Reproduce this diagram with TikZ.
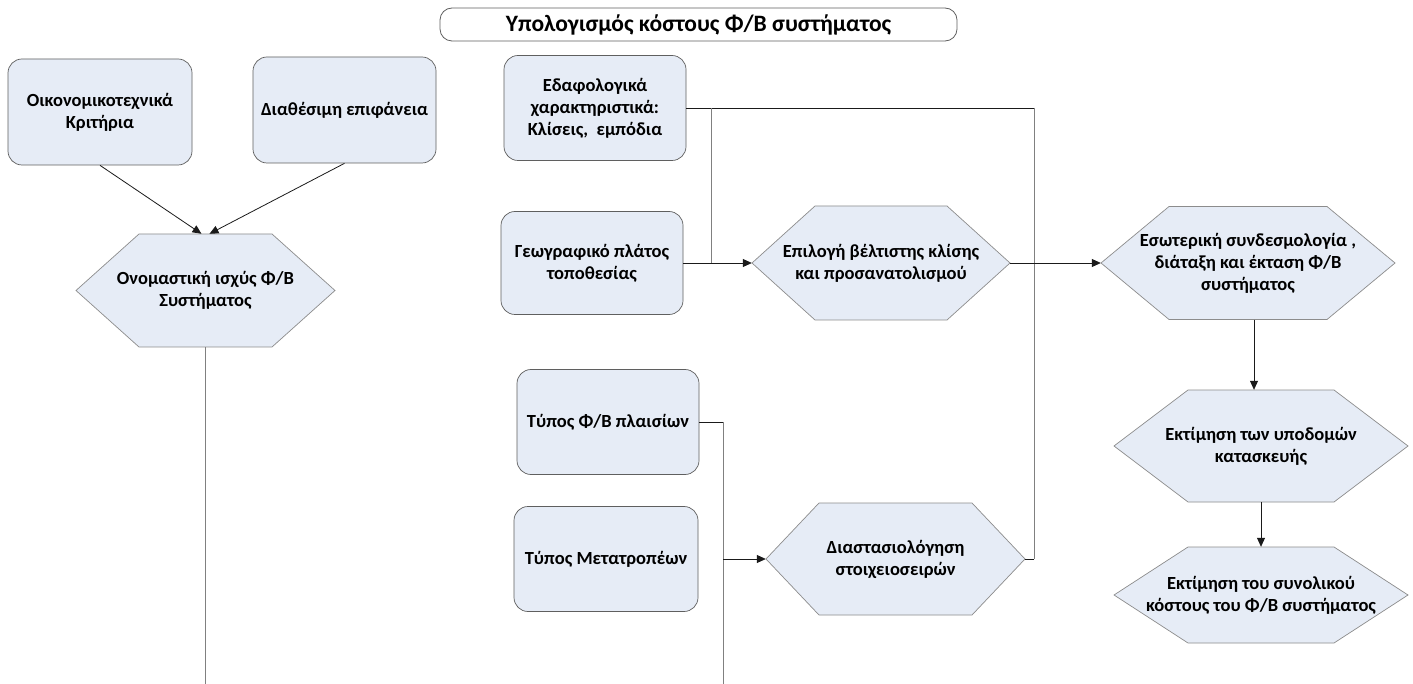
\documentclass[tikz,border=0pt]{standalone}
\usepackage{fontspec}
\setmainfont{Carlito}
\usetikzlibrary{arrows.meta}
\definecolor{boxfill}{HTML}{E6ECF6}
\definecolor{boxline}{HTML}{5F5F5F}
\definecolor{hexline}{HTML}{8C8C8C}
\definecolor{vline}{HTML}{808080}
\definecolor{hline}{HTML}{1A1A1A}
\newcommand\bodyfont{\fontsize{18.5}{22}\selectfont\bfseries}
\newcommand\hexnode[7]{%
  \path[hexshape] ({#2-#4/2},#3) -- ({#2-#4/2+#6},{#3-#5/2}) -- ({#2+#4/2-#6},{#3-#5/2})
    -- ({#2+#4/2},#3) -- ({#2+#4/2-#6},{#3+#5/2}) -- ({#2-#4/2+#6},{#3+#5/2}) -- cycle;
  \node[hexlbl, minimum width=#4pt, minimum height=#5pt] (#1) at (#2,#3) {#7};}
\begin{document}
\begin{tikzpicture}[x=1pt,y=-1pt,
  box/.style={draw=boxline, line width=0.7pt, fill=boxfill, rounded corners=14pt,
    align=center, font=\bodyfont, inner sep=0pt},
  hexshape/.style={draw=hexline, line width=0.7pt, fill=boxfill},
  hexlbl/.style={align=center, font=\bodyfont, inner sep=0pt},
  titlebox/.style={draw=boxline, line width=0.8pt, fill=white, rounded corners=12pt,
    font=\fontsize{23.5}{26}\selectfont\bfseries, inner sep=0pt},
  hconn/.style={draw=hline, line width=0.8pt},
  vconn/.style={draw=vline, line width=0.9pt},
  arr/.style={-{Triangle[length=9pt,width=8pt]}}]
\useasboundingbox (0,0) rectangle (1413,684);
\fill[white] (0,0) rectangle (1413,684);

% title
\node[titlebox, minimum width=517pt, minimum height=33pt] (title) at (698.5,24.5)
  {Υπολογισμός κόστους Φ/Β συστήματος};

% boxes
\node[box, minimum width=184pt, minimum height=106pt] (A) at (100,112)
  {Οικονομικοτεχνικά\\Κριτήρια};
\node[box, minimum width=183pt, minimum height=106pt] (B) at (344.5,110)
  {Διαθέσιμη επιφάνεια};
\node[box, minimum width=182pt, minimum height=105pt] (C) at (595,108)
  {Εδαφολογικά\\χαρακτηριστικά:\\Κλίσεις,\ \ εμπόδια};
\node[box, minimum width=182pt, minimum height=103pt] (D) at (592,263)
  {Γεωγραφικό πλάτος\\τοποθεσίας};
\node[box, minimum width=182pt, minimum height=105pt] (E) at (608,422)
  {Τύπος Φ/Β πλαισίων};
\node[box, minimum width=184pt, minimum height=105pt] (F) at (606,559)
  {Τύπος Μετατροπέων};

% hexagons
\hexnode{H1}{205.5}{290.5}{259}{113}{63}{Ονομαστική ισχύς Φ/Β\\Συστήματος}
\hexnode{H2}{881}{263}{258}{114}{63}{Επιλογή βέλτιστης κλίσης\\και προσανατολισμού}
\hexnode{H3}{1248}{263}{294}{113}{68}{Εσωτερική συνδεσμολογία ,\\διάταξη και έκταση Φ/Β\\συστήματος}
\hexnode{H4}{1261}{446}{294}{112}{74}{Εκτίμηση των υποδομών\\κατασκευής}
\hexnode{H5}{1261}{595}{294}{96}{74}{Εκτίμηση του συνολικού\\κόστους του Φ/Β συστήματος}
\hexnode{Hd}{895.5}{559}{259}{112}{53}{Διαστασιολόγηση\\στοιχειοσειρών}

% helper coordinates
\coordinate (bot) at (0,684);
\coordinate (j1) at (711,0);
\coordinate (j2) at (723,0);
\coordinate (rt) at (1034,0);

% connectors
\draw[hconn, arr] (A.south) -- ([xshift=-4pt]H1.north);
\draw[hconn, arr] (B.south) -- ([xshift=4pt]H1.north);
\draw[vconn] (H1.south) -- (H1.south |- bot);

\draw[hconn] (C.east) -- (C.east -| rt);
\draw[vconn] (C.east -| rt) -- (Hd.east -| rt);
\draw[hconn] (Hd.east -| rt) -- (Hd.east);
\draw[vconn] (C.east -| j1) -- (D.east -| j1);
\draw[hconn, arr] (D.east) -- (H2.west);
\draw[hconn, arr] (H2.east) -- (H3.west);
\draw[hconn, arr] ([xshift=6pt]H3.south) -- ([xshift=6pt]H3.south |- H4.north);
\draw[hconn, arr] (H4.south) -- (H5.north);

\draw[hconn] (E.east) -- (E.east -| j2);
\draw[vconn] (E.east -| j2) -- (j2 |- bot);
\draw[hconn, arr] (Hd.west -| j2) -- (Hd.west);
\end{tikzpicture}
\end{document}
